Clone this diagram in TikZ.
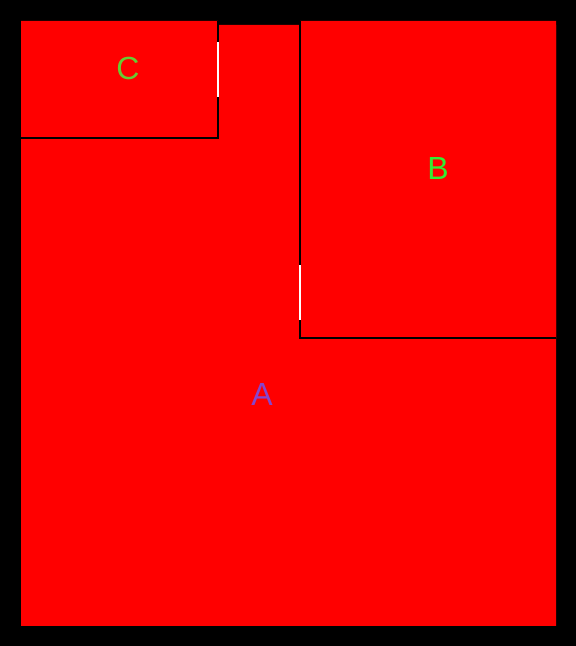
\documentclass[tikz,border=0pt]{standalone}
\usepackage{fontspec}
\setmainfont{Liberation Sans}
\usepackage{tkz-euclide}
\definecolor{RegionClr}{rgb}{1,0,0}
\definecolor{LabelC}{rgb}{0.40,0.80,0.20}
\definecolor{LabelB}{rgb}{0.20,0.93,0.20}
\definecolor{LabelA}{rgb}{0.53,0.27,0.80}

\begin{document}
\begin{tikzpicture}[x=1pt,y=1pt,border/.style={line width=2.2pt}]

\fill[black] (0,0) rectangle (576,646);
\useasboundingbox (0,0) rectangle (576,646);

% outer region and the two inner ones
\tkzDefPoints{21/20/A1,556/20/A2,556/621/A3,21/621/A4}
\tkzDefPoints{21/508/C1,218/508/C2,218/625/C3,21/625/C4}
\tkzDefPoints{300/308/B1,556/308/B2,556/625/B3,300/625/B4}

\tkzFillPolygon[fill=RegionClr](A1,A2,A3,A4)
\tkzFillPolygon[fill=RegionClr](C1,C2,C3,C4)
\tkzFillPolygon[fill=RegionClr](B1,B2,B3,B4)

% borders
\draw[border,black] (C1) -- (C2) -- (C3);
\draw[border,black] (B4) -- (B1) -- (B2);

% white marks on the borders
\tkzDefPoints{218/549/W1,218/604/W2,300/326/W3,300/381/W4}
\draw[border,white] (W1) -- (W2);
\draw[border,white] (W3) -- (W4);

\node[text=LabelC,font=\fontsize{32}{32}\selectfont] (labC) at (128,578) {C};
\node[text=LabelB,font=\fontsize{32}{32}\selectfont] (labB) at (438,478) {B};
\node[text=LabelA,font=\fontsize{32}{32}\selectfont] (labA) at (262,252) {A};

\end{tikzpicture}
\end{document}
